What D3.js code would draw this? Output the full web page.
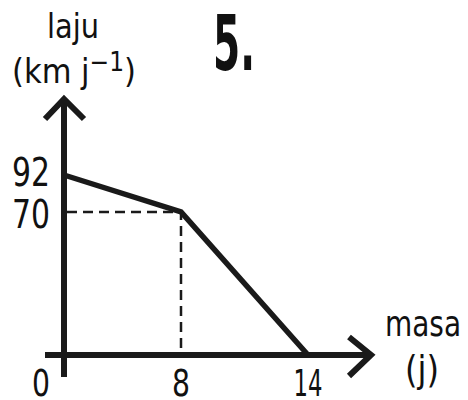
<!DOCTYPE html>
<html>
<head>
<meta charset="utf-8">
<script src="https://cdn.jsdelivr.net/npm/d3@7"></script>
<style>
  body { margin: 0; background: #fff; }
  text { font-family: "DejaVu Sans", sans-serif; fill: #111; }
</style>
</head>
<body>
<svg id="chart"></svg>
<script>
// data (axes are not to scale, so scales are piecewise)
var masa = [0, 8, 14]
var laju = [92, 70, 0]
var xTicks = [0, 8, 14]
var yTicks = [92, 70]

var width = 468
var height = 400

var svg = d3.select('#chart')
  .attr('width', width)
  .attr('height', height)

var x = d3.scaleLinear()
  .domain([0, 8, 14])
  .range([64, 181, 308])
var y = d3.scaleLinear()
  .domain([0, 70, 92])
  .range([355, 212, 175])

var ink = '#1a1a1a'

// axes
svg.append('line')
  .attr('x1', x(0)).attr('x2', x(0))
  .attr('y1', 377).attr('y2', 100)
  .attr('stroke', ink).attr('stroke-width', 6)
svg.append('line')
  .attr('x1', 45).attr('x2', 370)
  .attr('y1', y(0)).attr('y2', y(0))
  .attr('stroke', ink).attr('stroke-width', 6)

// arrow heads
svg.append('path')
  .attr('d', 'M45,119 L' + x(0) + ',99 L84,119')
  .attr('fill', 'none').attr('stroke', ink).attr('stroke-width', 6)
svg.append('path')
  .attr('d', 'M349,337 L371,' + y(0) + ' L349,376')
  .attr('fill', 'none').attr('stroke', ink).attr('stroke-width', 6)

// dashed guides at (8, 70)
svg.append('path')
  .attr('d', 'M' + (x(0) + 3) + ',' + y(70) + ' H' + x(8) + ' V' + (y(0) - 3))
  .attr('fill', 'none').attr('stroke', ink).attr('stroke-width', 2.5)
  .attr('stroke-dasharray', '10,6')

// data line
var line = d3.line()
  .x(function (d, i) { return x(masa[i]) })
  .y(function (d) { return y(d) })
svg.append('path')
  .datum(laju)
  .attr('d', line)
  .attr('fill', 'none').attr('stroke', ink).attr('stroke-width', 5.5)
  .attr('stroke-linejoin', 'miter')

function squeeze (sel, len) {
  sel.attr('textLength', len).attr('lengthAdjust', 'spacingAndGlyphs')
}

// tick labels
svg.selectAll('.ylab')
  .data(yTicks)
  .enter().append('text')
  .attr('class', 'ylab')
  .attr('x', 31)
  .attr('y', function (d) { return y(d) + (d === 92 ? 11 : 16) })
  .attr('text-anchor', 'middle')
  .attr('font-size', 39)
  .call(squeeze, 38)
  .text(function (d) { return d })

svg.selectAll('.xlab')
  .data(xTicks)
  .enter().append('text')
  .attr('class', 'xlab')
  .attr('x', function (d) { return d === 0 ? 41 : x(d) })
  .attr('y', 396)
  .attr('text-anchor', 'middle')
  .attr('font-size', 37)
  .call(squeeze, function (d) { return d === 14 ? 29 : 18 })
  .text(function (d) { return d })

// axis titles
svg.append('text')
  .attr('x', 73).attr('y', 38)
  .attr('text-anchor', 'middle')
  .attr('font-size', 34)
  .call(squeeze, 52)
  .text('laju')
var yt = svg.append('text')
  .attr('x', 74).attr('y', 83)
  .attr('text-anchor', 'middle')
  .attr('font-size', 34)
  .call(squeeze, 124)
yt.append('tspan').text('(km j')
yt.append('tspan').attr('dy', -12).attr('font-size', 26).text('−1')
yt.append('tspan').attr('dy', 12).text(')')

svg.append('text')
  .attr('x', 423).attr('y', 336)
  .attr('text-anchor', 'middle')
  .attr('font-size', 36)
  .call(squeeze, 76)
  .text('masa')
svg.append('text')
  .attr('x', 422).attr('y', 382)
  .attr('text-anchor', 'middle')
  .attr('font-size', 38)
  .call(squeeze, 34)
  .text('(j)')

// question number
svg.append('text')
  .attr('x', 234).attr('y', 70)
  .attr('text-anchor', 'middle')
  .attr('font-size', 76)
  .attr('font-weight', 'bold')
  .call(squeeze, 42)
  .text('5.')
</script>
</body>
</html>
